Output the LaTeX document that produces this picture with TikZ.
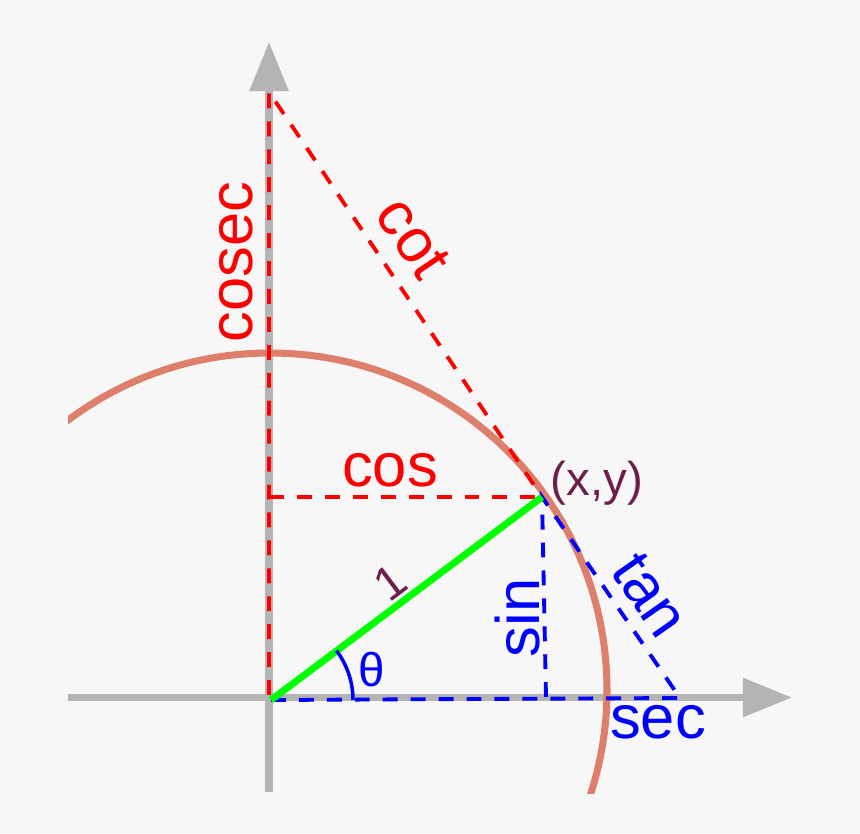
\documentclass[tikz,border=0pt]{standalone}
\usepackage{fontspec}
\setmainfont{Liberation Sans}
\usetikzlibrary{arrows.meta}
\definecolor{bg}{HTML}{F7F7F7}
\definecolor{axisgray}{HTML}{B4B4B4}
\definecolor{circ}{HTML}{DD7F6B}
\definecolor{plum}{HTML}{6E1E4A}
\begin{document}
\begin{tikzpicture}[x=0.02cm, y=0.02cm,
    axis/.style={line width=4pt, axisgray, -{Triangle[length=28pt,width=21.5pt]}},
    reddash/.style={red, line width=2.2pt, dash pattern=on 8.5pt off 7.4pt},
    bluedash/.style={blue, line width=2.2pt, dash pattern=on 8.5pt off 7.4pt},
    big/.style={font=\fontsize{35}{40}\selectfont, inner sep=0pt},
    small/.style={font=\fontsize{27}{32}\selectfont, inner sep=0pt}]
    \fill[bg] (0,0) rectangle (860,833);
    \useasboundingbox (0,0) rectangle (860,833);
    % points
    \coordinate (O) at (271,133);
    \coordinate (Oy) at (269,138);
    \coordinate (P) at (542,336);
    \coordinate (C) at (269,741);
    \coordinate (Cy) at (269,336);
    \coordinate (S) at (680,135);
    \coordinate (Sx) at (546,136);
    % axes
    \draw[axis] (68,135.5) -- (792,135.5);
    \draw[axis] (269,41) -- (269,791);
    % circle
    \begin{scope}
        \clip (68,40) rectangle (860,833);
        \draw[circ, line width=4pt] (270,143) circle (337);
    \end{scope}
    % red and blue lines
    \draw[reddash] (Oy) -- (C) -- (P);
    \draw[reddash] (Cy) -- (P);
    \draw[bluedash] (O) -- (S) -- (P) -- (Sx);
    \draw[green, line width=4pt] (O) -- (P);
    \draw[blue, line width=2pt] ([shift={(0:82)}]O) arc (0:37:82);
    % labels
    \node[big, red, rotate=90] (cosec) at (236,571) {cosec};
    \node[big, red, rotate=-56] (cot) at (413,595) {cot};
    \node[big, red] (cos) at (390,363) {cos};
    \node[small, plum] (xy) at (597,350) {(x,y)};
    \node[big, blue, rotate=-55] (tan) at (650,238) {tan};
    \node[big, blue, rotate=90] (sin) at (518,215) {sin};
    \node[big, blue] (sec) at (658,111) {sec};
    \node[small, blue] (theta) at (372,163) {θ};
    \node[small, plum, rotate=37] (one) at (390,250) {1};
\end{tikzpicture}
\end{document}
